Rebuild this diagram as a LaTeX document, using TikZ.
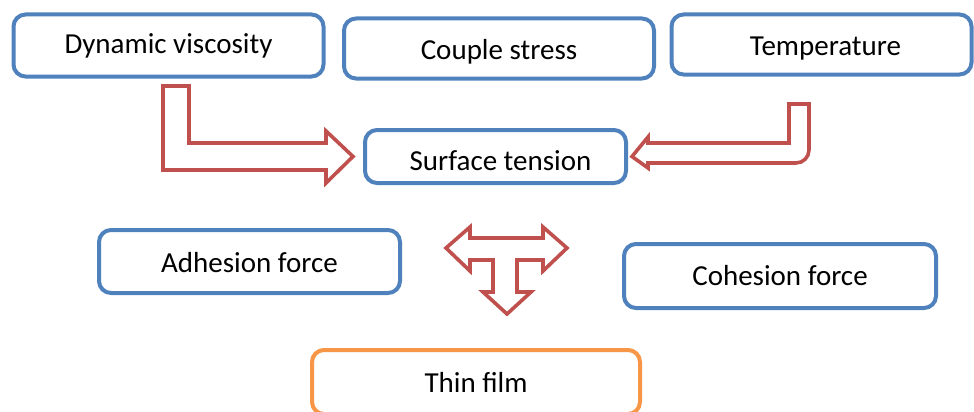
\documentclass[tikz,border=0pt]{standalone}
\usepackage{fontspec}
\setmainfont{Carlito}
\definecolor{boxblue}{HTML}{4F81BD}
\definecolor{arrred}{HTML}{C0504D}
\definecolor{filmorange}{HTML}{F79646}
\newcommand{\lowertext}[2]{\raisebox{-#1}[\height][\depth]{#2}}
\begin{document}
\begin{tikzpicture}[x=1pt,y=-1pt,
  card/.style={draw=boxblue,line width=4pt,rounded corners=12pt,fill=white,
    inner sep=0pt,font=\fontsize{29}{33}\selectfont,text=black},
  film/.style={card,draw=filmorange},
  blockarrow/.style={draw=arrred,line width=3.6pt,line join=miter,fill=white}]
\useasboundingbox (0,0) rectangle (974,412);
% boxes
\node[card,minimum width=310pt,minimum height=62pt] (dv) at (168.5,45.5) {Dynamic viscosity};
\node[card,minimum width=310pt,minimum height=60pt] (cs) at (499,48.5) {\lowertext{3pt}{Couple stress}};
\node[card,minimum width=300pt,minimum height=60pt] (temp) at (821.5,44.5) {\hspace{8pt}\lowertext{4pt}{Temperature}};
\node[card,minimum width=261pt,minimum height=53pt] (st) at (495.5,156.5) {\hspace{10pt}\lowertext{4pt}{Surface tension}};
\node[card,minimum width=301pt,minimum height=63pt] (ad) at (249.5,261.5) {\lowertext{1pt}{Adhesion force}};
\node[card,minimum width=312pt,minimum height=64pt] (co) at (780,276) {Cohesion force};
\node[film,minimum width=328pt,minimum height=64pt] (tf) at (476,382) {Thin film};
% bent arrow from Dynamic viscosity to Surface tension
\coordinate (a1tip) at ([xshift=-10pt]st.west);
\draw[blockarrow] (163,86) -- (189,86) -- (189,143) -- (326,143) -- (326,131)
  -- (a1tip) -- (326,183) -- (326,170) -- (163,170) -- cycle;
% bent arrow from Temperature to Surface tension
\coordinate (a2tip) at ([xshift=4pt]st.east);
\draw[blockarrow] (809,104) -- (809,150) arc[start angle=0,end angle=90,radius=13] -- (648,163)
  -- (648,168) -- (a2tip) -- (648,137) -- (648,143) -- (789,143) -- (789,104) -- cycle;
% T arrow
\draw[blockarrow] (446,248) -- (470,227) -- (470,238) -- (543,238) -- (543,227)
  -- (567,248) -- (543,271) -- (543,260) -- (517,260) -- (517,292) -- (531,292)
  -- (507,314) -- (483,292) -- (493,292) -- (493,260) -- (470,260) -- (470,271) -- cycle;
\end{tikzpicture}
\end{document}
